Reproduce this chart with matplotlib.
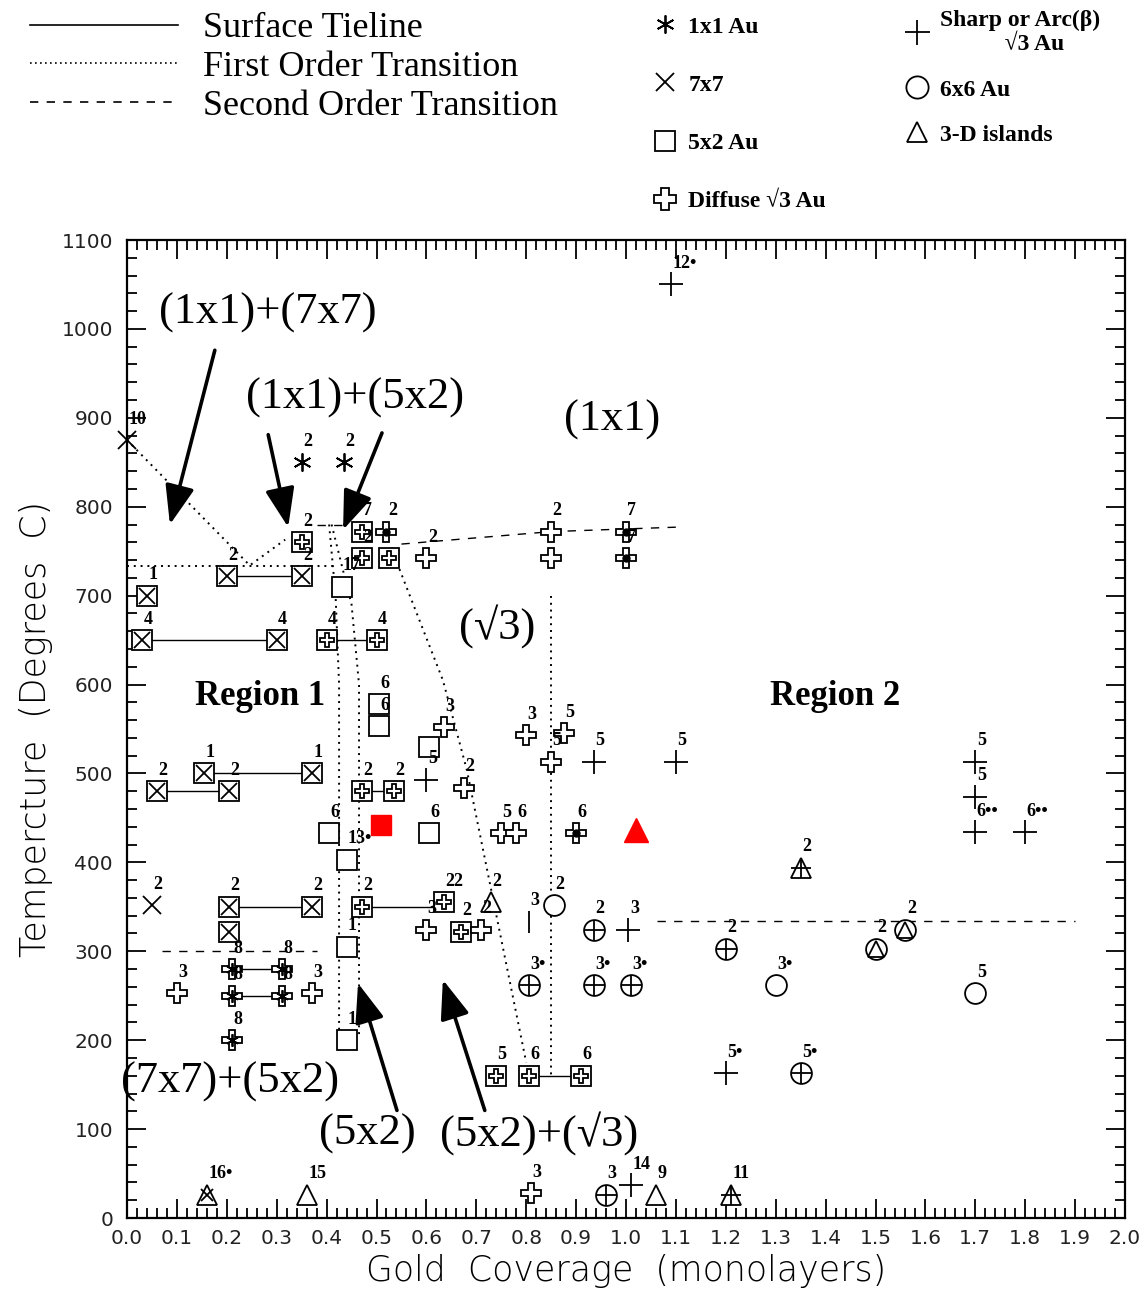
import matplotlib
matplotlib.use("Agg")
import matplotlib.pyplot as plt
from matplotlib.lines import Line2D
from matplotlib.ticker import MultipleLocator, FormatStrFormatter

# ---- data: gold coverage (ML), temperature (C), reference labels ----
ast_x = [0.35, 0.435]
ast_T = [850, 850]
ast_lab = ['2', '2']

x7_x = [0.0, 0.05]
x7_T = [875, 352]
x7_lab = ['10', '2']

sq_x = [0.43, 0.505, 0.505, 0.605, 0.405, 0.605, 0.44, 0.44, 0.44]
sq_T = [710, 578, 553, 530, 433, 433, 403, 305, 200]
sq_lab = ['17', '6', '6', '', '6', '6', '13•', '1', '1']

sqx_x = [0.04, 0.03, 0.30, 0.20, 0.35, 0.155, 0.37, 0.06, 0.205, 0.205, 0.37, 0.205]
sqx_T = [700, 650, 650, 722, 722, 500, 500, 480, 480, 350, 350, 322]
sqx_lab = ['1', '4', '4', '2', '2', '1', '1', '2', '2', '2', '2', '']

sqd_x = [0.35, 0.47, 0.47, 0.525, 0.40, 0.50, 0.47, 0.535, 0.47, 0.635, 0.67, 0.74, 0.805, 0.91]
sqd_T = [760, 772, 742, 742, 650, 650, 480, 480, 350, 355, 322, 160, 160, 160]
sqd_lab = ['2', '7', '2', '', '4', '4', '2', '2', '2', '22', '2', '5', '6', '6']

dif_x = [0.60, 0.85, 0.85, 0.635, 0.675, 0.80, 0.875, 0.85, 0.75, 0.78, 0.10, 0.37, 0.60, 0.71, 0.81]
dif_T = [742, 772, 742, 552, 484, 543, 545, 513, 433, 433, 253, 253, 324, 324, 28]
dif_lab = ['2', '2', '', '3', '2', '3', '5', '5', '5', '6', '3', '3', '3', '2', '3']

difdot_x = [0.52, 1.0, 1.0, 0.90]
difdot_T = [772, 772, 742, 433]
difdot_lab = ['2', '7', '7', '6']

flw_x = [0.21, 0.31, 0.21, 0.31, 0.21]
flw_T = [280, 280, 250, 250, 200]
flw_lab = ['8', '8', '8', '8', '8']

plus_x = [1.09, 0.60, 0.935, 1.10, 1.005, 1.70, 1.70, 1.70, 1.80, 1.20, 1.01]
plus_T = [1050, 493, 513, 513, 324, 513, 474, 434, 434, 163, 37]
plus_lab = ['12•', '5', '5', '5', '3', '5', '5', '6••', '6••', '5•', '14']

circ_x = [0.855, 1.30, 1.70]
circ_T = [352, 262, 253]
circ_lab = ['2', '3•', '5']

circp_x = [0.935, 1.20, 0.805, 0.935, 1.01, 1.35, 0.96]
circp_T = [324, 303, 262, 262, 262, 163, 26]
circp_lab = ['2', '2', '3•', '3•', '3•', '5•', '3']

tri_x = [1.06, 0.36, 0.73]
tri_T = [26, 26, 355]
tri_lab = ['9', '15', '2']

trip_x = [1.35, 1.21]
trip_T = [394, 26]
trip_lab = ['2', '11']

circtri_x = [1.50, 1.56]
circtri_T = [303, 324]
circtri_lab = ['2', '2']

trix_x = [0.16]
trix_T = [26]
trix_lab = ['16•']

arc_x = [0.805]
arc_T = [333]
arc_lab = ['3']

red_sq = (0.51, 442)
red_tri = (1.02, 436)

# surface tielines (pairs of coverages at one temperature)
tie_x0 = [0.03, 0.40, 0.20, 0.155, 0.06, 0.47, 0.205, 0.47, 0.21, 0.21, 0.805]
tie_x1 = [0.30, 0.50, 0.35, 0.37, 0.205, 0.535, 0.37, 0.635, 0.31, 0.31, 0.91]
tie_T = [650, 650, 722, 500, 480, 480, 350, 350, 280, 250, 160]

# first order transitions
fo_lines = [
    ([0.0, 0.246, 0.317], [875, 734, 763]),
    ([0.0, 0.42], [733, 733]),
    ([0.405, 0.418, 0.425, 0.425], [780, 700, 600, 195]),
    ([0.41, 0.45, 0.465, 0.465], [780, 690, 600, 205]),
    ([0.541, 0.633, 0.681, 0.727, 0.80], [737, 605, 504, 377, 175]),
    ([0.85, 0.85], [700, 160]),
]
# second order transitions
so_lines = [
    ([0.38, 0.44], [780, 780]),
    ([0.55, 0.85, 1.10], [758, 772, 777]),
    ([0.07, 0.38], [300, 300]),
    ([1.063, 1.90], [334, 334]),
]

# phase labels
phase_txt = ['(1x1)+(7x7)', '(1x1)+(5x2)', '(1x1)', '(√3)', '(7x7)+(5x2)', '(5x2)', '(5x2)+(√3)']
phase_x = [0.283, 0.457, 0.972, 0.741, 0.206, 0.481, 0.825]
phase_T = [1018, 922, 898, 665, 153, 95, 95]
region_txt = ['Region 1', 'Region 2']
region_x = [0.267, 1.419]
region_T = [586, 586]

# arrows (tail -> tip)
arr_tail = [(0.176, 976), (0.283, 881), (0.511, 883), (0.541, 121), (0.717, 121)]
arr_tip = [(0.086, 780), (0.323, 777), (0.433, 774), (0.463, 264), (0.633, 268)]

xticks = [round(0.1 * i, 1) for i in range(21)]
yticks = list(range(0, 1101, 100))

# ---- figure ----
fig = plt.figure(figsize=(11.47, 12.90), dpi=100)
ax = fig.add_axes([127 / 1147, 1 - 1218 / 1290, 998 / 1147, 978 / 1290])
ax.set_xlim(0, 2.0)
ax.set_ylim(0, 1100)

dotted = (0, (1, 2.5))
dashed = (0, (6, 6))

for x0, x1, t in zip(tie_x0, tie_x1, tie_T):
    ax.plot([x0, x1], [t, t], color='k', lw=1.0, zorder=2)
for xs, ts in fo_lines:
    ax.plot(xs, ts, color='k', lw=1.4, linestyle=dotted, zorder=2)
for xs, ts in so_lines:
    ax.plot(xs, ts, color='k', lw=1.0, linestyle=dashed, zorder=2)

kw = dict(linestyle='none', color='k', mfc='white', mew=1.3, zorder=3, clip_on=False)
ast_marker = (6, 2, 0)

ax.plot(ast_x, ast_T, marker=ast_marker, ms=13, **kw)
ax.plot(x7_x, x7_T, marker='x', ms=13, **kw)
ax.plot(sq_x, sq_T, marker='s', ms=14, **kw)
ax.plot(sqx_x, sqx_T, marker='s', ms=14, **kw)
ax.plot(sqx_x, sqx_T, marker='x', ms=12, **kw)
ax.plot(sqd_x, sqd_T, marker='s', ms=14, **kw)
ax.plot(sqd_x, sqd_T, marker='P', ms=10, **kw)
ax.plot(dif_x, dif_T, marker='P', ms=15, **kw)
ax.plot(difdot_x, difdot_T, marker='P', ms=15, **kw)
ax.plot(difdot_x, difdot_T, marker='o', ms=5, linestyle='none', color='k', zorder=4)
ax.plot(flw_x, flw_T, marker='P', ms=15, **kw)
ax.plot(flw_x, flw_T, marker=ast_marker, ms=9, **kw)
ax.plot(plus_x, plus_T, marker='+', ms=17, **kw)
ax.plot(circ_x, circ_T, marker='o', ms=15, **kw)
ax.plot(circp_x, circp_T, marker='o', ms=15, **kw)
ax.plot(circp_x, circp_T, marker='+', ms=15, **kw)
ax.plot(tri_x, tri_T, marker='^', ms=14, **kw)
ax.plot(trip_x, trip_T, marker='^', ms=14, **kw)
ax.plot(trip_x, trip_T, marker='+', ms=14, **kw)
ax.plot(circtri_x, circtri_T, marker='o', ms=15, **kw)
ax.plot(circtri_x, circtri_T, marker='^', ms=12, **kw)
ax.plot(trix_x, trix_T, marker='^', ms=14, **kw)
ax.plot(trix_x, trix_T, marker='x', ms=9, **kw)
ax.plot(arc_x, arc_T, marker='|', ms=16, **kw)
ax.plot(*red_sq, marker='s', ms=15, color='red', linestyle='none', zorder=5)
ax.plot(*red_tri, marker='^', ms=17, color='red', linestyle='none', zorder=5)

lab_font = dict(family='Liberation Serif', fontweight='bold', fontsize=13)
for xs, ts, labs in [(ast_x, ast_T, ast_lab), (x7_x, x7_T, x7_lab), (sq_x, sq_T, sq_lab),
                     (sqx_x, sqx_T, sqx_lab), (sqd_x, sqd_T, sqd_lab), (dif_x, dif_T, dif_lab),
                     (difdot_x, difdot_T, difdot_lab), (flw_x, flw_T, flw_lab),
                     (plus_x, plus_T, plus_lab), (circ_x, circ_T, circ_lab),
                     (circp_x, circp_T, circp_lab), (tri_x, tri_T, tri_lab),
                     (trip_x, trip_T, trip_lab), (circtri_x, circtri_T, circtri_lab),
                     (trix_x, trix_T, trix_lab), (arc_x, arc_T, arc_lab)]:
    for x, t, s in zip(xs, ts, labs):
        if s:
            ax.annotate(s, (x, t), xytext=(1, 9), textcoords='offset points',
                        ha='left', va='bottom', zorder=6, **lab_font)

for s, x, t in zip(phase_txt, phase_x, phase_T):
    ax.text(x, t, s, ha='center', va='center', family='Liberation Serif', fontsize=32)
for s, x, t in zip(region_txt, region_x, region_T):
    ax.text(x, t, s, ha='center', va='center', family='Liberation Serif', fontsize=25,
            fontweight='bold')

for tail, tip in zip(arr_tail, arr_tip):
    ax.annotate('', xy=tip, xytext=tail,
                arrowprops=dict(arrowstyle='-|>,head_length=1.2,head_width=0.45',
                                color='k', lw=2.6, mutation_scale=20,
                                shrinkA=0, shrinkB=0))

# axes styling
ax.set_xticks(xticks)
ax.set_yticks(yticks)
ax.xaxis.set_minor_locator(MultipleLocator(0.02))
ax.yaxis.set_minor_locator(MultipleLocator(20))
ax.xaxis.set_major_formatter(FormatStrFormatter('%.1f'))
ax.tick_params(which='both', direction='in', top=True, right=True, width=1.3)
ax.tick_params(which='major', length=14, labelsize=14.5, labelcolor='#222222')
ax.tick_params(axis='x', which='major', pad=8)
ax.tick_params(axis='y', which='major', pad=10)
ax.tick_params(which='minor', length=7)
for sp in ax.spines.values():
    sp.set_linewidth(1.6)

ax.set_xlabel('Gold  Coverage  (monolayers)', fontsize=25, fontweight='light', labelpad=4)
ax.set_ylabel('Tempercture  (Degrees  C)', fontsize=25, fontweight='light', labelpad=6)

# legends
line_handles = [Line2D([], [], color='k', lw=1.2),
                Line2D([], [], color='k', lw=1.2, linestyle=(0, (1, 2))),
                Line2D([], [], color='k', lw=1.2, linestyle=(0, (5, 5)))]
line_labels = ['Surface Tieline', 'First Order Transition', 'Second Order Transition']
fig.legend(line_handles, line_labels, loc='upper left', bbox_to_anchor=(30 / 1147, 1 - 12 / 1290),
           frameon=False, borderpad=0, borderaxespad=0, handlelength=4.1, handletextpad=0.7,
           labelspacing=0.15, prop=dict(family='Liberation Serif', size=26))

mk = dict(linestyle='none', color='k', mfc='white', mew=1.3)
col1_handles = [Line2D([], [], marker=ast_marker, ms=13, **mk),
                Line2D([], [], marker='x', ms=13, **mk),
                Line2D([], [], marker='s', ms=15, **mk),
                Line2D([], [], marker='P', ms=16, **mk)]
col1_labels = ['1x1 Au', '7x7', '5x2 Au', 'Diffuse √3 Au']
col2_handles = [Line2D([], [], marker='+', ms=18, **mk),
                Line2D([], [], marker='o', ms=16, **mk),
                Line2D([], [], marker='^', ms=15, **mk)]
col2_labels = ['Sharp or Arc(β)\n           √3 Au', '6x6 Au', '3-D islands']
leg_prop = dict(family='Liberation Serif', size=17, weight='bold')
fig.legend(col1_handles, col1_labels, loc='upper left', bbox_to_anchor=(653 / 1147, 1 - 16 / 1290),
           frameon=False, borderpad=0, borderaxespad=0, handlelength=1.0, handletextpad=0.5,
           labelspacing=1.55, prop=leg_prop)
fig.legend(col2_handles, col2_labels, loc='upper left', bbox_to_anchor=(905 / 1147, 1 - 10 / 1290),
           frameon=False, borderpad=0, borderaxespad=0, handlelength=1.0, handletextpad=0.5,
           labelspacing=1.0, prop=leg_prop)

fig.savefig('out.png', dpi=100, facecolor='white')
